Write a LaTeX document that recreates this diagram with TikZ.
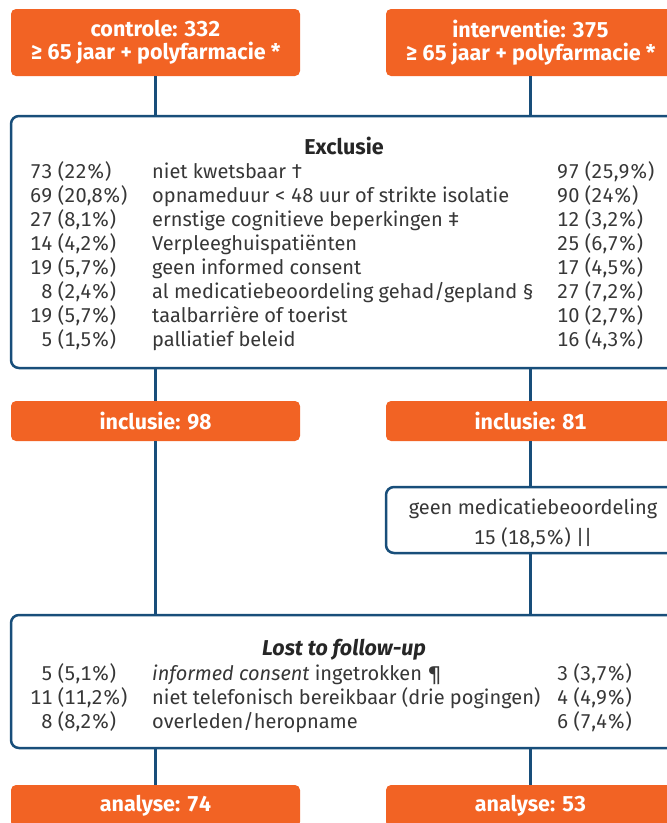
\documentclass[tikz,border=0pt]{standalone}
\usepackage{fontspec}
\setmainfont{Fira Sans}[Numbers={Monospaced,Lining}]
\definecolor{org}{RGB}{242,99,36}
\definecolor{navy}{RGB}{24,78,122}
\definecolor{txt}{RGB}{55,55,55}
\newcommand\bodyfs{\fontsize{20}{24}\selectfont}
\newcommand\headfs{\fontsize{21.5}{23}\selectfont}
\newcommand\fig{\hphantom{0}}
\tikzset{
  obox/.style={fill=org, rounded corners=5pt, draw=none, text=white,
    font=\headfs\bfseries, align=center, inner sep=0pt,
    minimum width=289pt},
  bbox/.style={draw=navy, line width=2.5pt, rounded corners=8pt, fill=white, inner sep=0pt},
  conn/.style={draw=navy, line width=2.2pt},
  cell/.style={anchor=base west, inner sep=0pt, text=txt, font=\bodyfs},
  ttl/.style={anchor=base, inner sep=0pt, text=black!85, font=\headfs\bfseries},
}
% row macro: prefix, index, baseline y, left, description, right
\newcommand\tabrow[6]{%
  \node[cell] (#1a#2) at (30,#3) {#4};
  \node[cell] (#1d#2) at (152,#3) {#5};
  \node[cell] (#1r#2) at (557,#3) {#6};
}
\begin{document}
\begin{tikzpicture}[x=1pt,y=-1pt]
\useasboundingbox (0,0) rectangle (667,823);
\clip (0,0) rectangle (667,823);

% top boxes
\node[obox, minimum height=67pt] (ctrl) at (155.5,42.5) {controle: 332\\ ≥ 65 jaar + polyfarmacie *};
\node[obox, minimum height=67pt] (intv) at (530.5,42.5) {interventie: 375\\ ≥ 65 jaar + polyfarmacie *};

% exclusie box
\node[bbox, minimum width=679pt, minimum height=252pt] (excl) at (350.5,242) {};
\draw[conn] (ctrl.south) -- (ctrl.south |- excl.north);
\draw[conn] (intv.south) -- (intv.south |- excl.north);

\node[ttl] (exT) at (344,154) {Exclusie};
\tabrow{ex}{1}{178}{73 (22\%)}{niet kwetsbaar †}{97 (25,9\%)}
\tabrow{ex}{2}{202}{69 (20,8\%)}{opnameduur < 48 uur of strikte isolatie}{90 (24\%)}
\tabrow{ex}{3}{226}{27 (8,1\%)}{ernstige cognitieve beperkingen ‡}{12 (3,2\%)}
\tabrow{ex}{4}{250}{14 (4,2\%)}{Verpleeghuispatiënten}{25 (6,7\%)}
\tabrow{ex}{5}{274}{19 (5,7\%)}{geen informed consent}{17 (4,5\%)}
\tabrow{ex}{6}{298}{\fig8 (2,4\%)}{al medicatiebeoordeling gehad/gepland §}{27 (7,2\%)}
\tabrow{ex}{7}{322}{19 (5,7\%)}{taalbarrière of toerist}{10 (2,7\%)}
\tabrow{ex}{8}{346}{\fig5 (1,5\%)}{palliatief beleid}{16 (4,3\%)}

% inclusie boxes
\node[obox, minimum height=40pt] (incC) at (155.5,421) {inclusie: 98};
\node[obox, minimum height=40pt] (incI) at (530.5,421) {inclusie: 81};
\draw[conn] (excl.south -| incC.north) -- (incC.north);
\draw[conn] (excl.south -| incI.north) -- (incI.north);

% geen medicatiebeoordeling
\node[bbox, minimum width=294pt, minimum height=66pt] (geen) at (533,520) {};
\node[cell, anchor=base] (geenA) at (533,514) {geen medicatiebeoordeling};
\node[cell, anchor=base] (geenB) at (533,544) {15 (18,5\%) ||};
\draw[conn] (incI.south) -- (incI.south |- geen.north);

% lost to follow-up box
\node[bbox, minimum width=679pt, minimum height=133pt] (lost) at (350.5,681.5) {};
\draw[conn] (incC.south) -- (incC.south |- lost.north);
\draw[conn] (geen.south -| incI.south) -- (incI.south |- lost.north);

\node[ttl, font=\headfs\bfseries\itshape] (loT) at (344,655) {Lost to follow-up};
\tabrow{lo}{1}{680}{\fig5 (5,1\%)}{\textit{informed consent} ingetrokken ¶}{3 (3,7\%)}
\tabrow{lo}{2}{704}{11 (11,2\%)}{niet telefonisch bereikbaar (drie pogingen)}{4 (4,9\%)}
\tabrow{lo}{3}{728}{\fig8 (8,2\%)}{overleden/heropname}{6 (7,4\%)}

% analyse boxes
\node[obox, minimum height=42pt] (anC) at (155.5,806) {analyse: 74};
\node[obox, minimum height=42pt] (anI) at (530.5,806) {analyse: 53};
\draw[conn] (lost.south -| anC.north) -- (anC.north);
\draw[conn] (lost.south -| anI.north) -- (anI.north);
\end{tikzpicture}
\end{document}
